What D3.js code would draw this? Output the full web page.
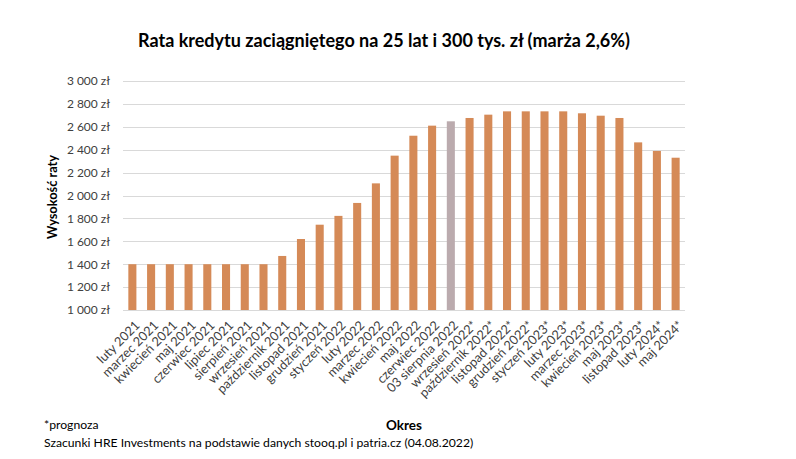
<!DOCTYPE html>
<html><head><meta charset="utf-8">
<script src="https://cdn.jsdelivr.net/npm/d3@7"></script>
<style>body{margin:0;background:#fff;} svg{display:block;font-family:Lato,"Open Sans",sans-serif;}</style>
</head><body>
<svg id="c" width="796" height="459"></svg>
<script>
const categories = ["luty 2021","marzec 2021","kwiecień 2021","maj 2021","czerwiec 2021","lipiec 2021","sierpień 2021","wrzesień 2021","październik 2021","listopad 2021","grudzień 2021","styczeń 2022","luty 2022","marzec 2022","kwiecień 2022","maj 2022","czerwiec 2022","03 sierpnia 2022","wrzesień 2022*","październik 2022*","listopad 2022*","grudzień 2022*","styczeń 2023*","luty 2023*","marzec 2023*","kwiecień 2023*","maj 2023*","listopad 2023*","luty 2024*","maj 2024*"];
const values = [1400,1400,1400,1400,1400,1400,1400,1400,1472,1620,1745,1822,1935,2106,2348,2522,2610,2648,2677,2706,2735,2735,2735,2735,2718,2697,2677,2464,2389,2330];
const highlighted = ["03 sierpnia 2022"];
const yTicks = [1000,1200,1400,1600,1800,2000,2200,2400,2600,2800,3000];
const title = "Rata kredytu zaciągniętego na 25 lat i 300 tys. zł (marża 2,6%)";
const yTitle = "Wysokość raty";
const xTitle = "Okres";
const note = "*prognoza";
const source = "Szacunki HRE Investments na podstawie danych stooq.pl i patria.cz (04.08.2022)";

const svg = d3.select("#c");
const pL = 123, pR = 685, pT = 81, pB = 310;
const x = d3.scaleBand().domain(categories).range([pL, pR]).paddingInner(0.57).paddingOuter(0.285);
const y = d3.scaleLinear().domain([1000, 3000]).range([pB, pT]);
const fmt = v => d3.format(",")(v).replace(/,/g, "\u00a0") + " zł";

// gridlines
svg.append("g").selectAll("line").data(yTicks).join("line")
  .attr("x1", pL).attr("x2", pR)
  .attr("y1", d => Math.round(y(d)) + 0.5).attr("y2", d => Math.round(y(d)) + 0.5)
  .attr("stroke", "#d9d9d9").attr("stroke-width", 1);

// y axis labels
const yAxis = d3.axisLeft(y).tickValues(yTicks).tickFormat(fmt).tickSize(0).tickPadding(13);
const ga = svg.append("g").attr("transform", `translate(${pL},0)`).call(yAxis);
ga.select(".domain").remove();
ga.selectAll("text").attr("font-size", 12).attr("fill", "#404040").attr("font-family", "Lato,sans-serif");

// bars
svg.append("g").selectAll("rect").data(categories).join("rect")
  .attr("x", d => x(d)).attr("width", x.bandwidth())
  .attr("y", (d, i) => y(values[i])).attr("height", (d, i) => y(1000) - y(values[i]))
  .attr("fill", d => highlighted.includes(d) ? "#BBABAE" : "#D58A57");

// x axis
const xAxis = d3.axisBottom(x).tickSize(0).tickPadding(0);
const gx = svg.append("g").attr("transform", `translate(0,${pB})`).call(xAxis);
gx.select(".domain").remove();
gx.selectAll("text")
  .attr("font-size", 12.8).attr("fill", "#404040").attr("font-family", "Lato,sans-serif")
  .attr("text-anchor", "end")
  .attr("transform", "translate(5,13) rotate(-45)")
  .attr("dy", "0.35em").attr("y", 0).attr("x", 0);

// titles
svg.append("text").attr("x", 384).attr("y", 47).attr("text-anchor", "middle")
  .attr("font-size", 18).attr("font-weight", "bold").attr("fill", "#000").text(title);
svg.append("text").attr("transform", "translate(57,197) rotate(-90)").attr("text-anchor", "middle")
  .attr("font-size", 12.8).attr("font-weight", "bold").attr("fill", "#000").text(yTitle);
svg.append("text").attr("x", 404).attr("y", 430).attr("text-anchor", "middle")
  .attr("font-size", 13.5).attr("font-weight", "bold").attr("fill", "#000").text(xTitle);
svg.append("text").attr("x", 44).attr("y", 429)
  .attr("font-size", 12.2).attr("fill", "#000").text(note);
svg.append("text").attr("x", 44).attr("y", 447)
  .attr("font-size", 12.2).attr("fill", "#000").text(source);
</script>
</body></html>
